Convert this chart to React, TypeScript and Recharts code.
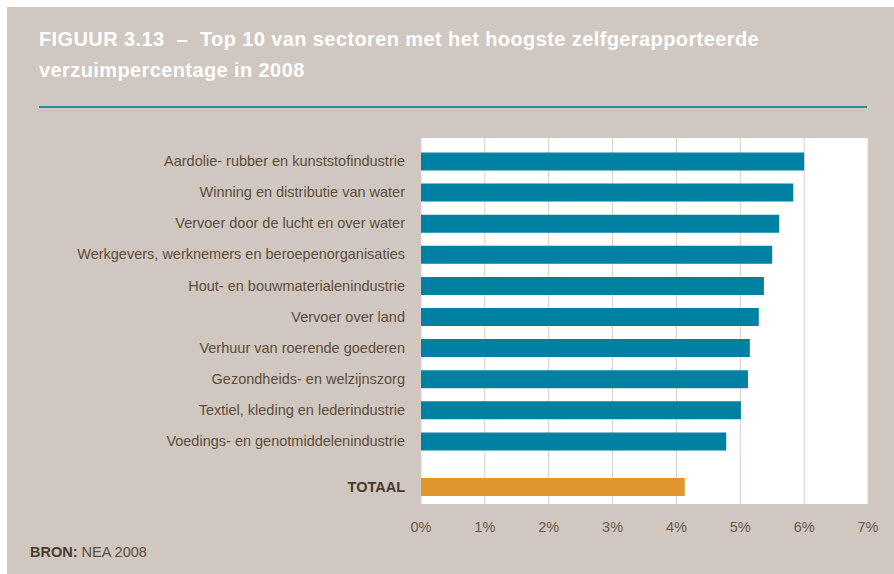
import { Bar, BarChart, CartesianGrid, Cell, XAxis, YAxis } from "recharts";

const sectors = [
  "Aardolie- rubber en kunststofindustrie",
  "Winning en distributie van water",
  "Vervoer door de lucht en over water",
  "Werkgevers, werknemers en beroepenorganisaties",
  "Hout- en bouwmaterialenindustrie",
  "Vervoer over land",
  "Verhuur van roerende goederen",
  "Gezondheids- en welzijnszorg",
  "Textiel, kleding en lederindustrie",
  "Voedings- en genotmiddelenindustrie",
];
const sectorValues = [6.0, 5.83, 5.61, 5.5, 5.37, 5.29, 5.15, 5.12, 5.01, 4.78];
const totalLabel = "TOTAAL";
const totalValue = 4.13;
const xTicks = [0, 1, 2, 3, 4, 5, 6, 7];

const BG = "#d0c7c0";
const TEAL = "#0081a1";
const ORANGE = "#e0962f";
const GRID = "#d9d1ca";
const TEXT = "#5e4d3b";
const FONT = "'Liberation Sans', Arial, sans-serif";

const sectorData = sectors.map((name, i) => ({ name, value: sectorValues[i] }));
const totalData = [{ name: totalLabel, value: totalValue }];

const CHART_W = 894;
const PLOT_RIGHT = 26;
const AXIS_W = 421;

export default function App() {
  return (
    <div
      style={{
        position: "absolute",
        left: 0,
        top: 0,
        width: 894,
        height: 574,
        background: "#fff",
        fontFamily: FONT,
        overflow: "hidden",
      }}
    >
      <div style={{ position: "absolute", left: 7, top: 7, right: 0, bottom: 0, background: BG }} />
      <div
        style={{
          position: "absolute",
          left: 39,
          top: 24,
          color: "#fff",
          fontWeight: 700,
          fontSize: 20,
          letterSpacing: 0.4,
          lineHeight: "31px",
          whiteSpace: "pre",
        }}
      >
        {"FIGUUR 3.13  \u2013  Top 10 van sectoren met het hoogste zelfgerapporteerde\nverzuimpercentage in 2008"}
      </div>
      <div style={{ position: "absolute", left: 39, top: 106, width: 828, height: 2, background: "#3a8799" }} />

      {/* sectors */}
      <div style={{ position: "absolute", left: 0, top: 138 }}>
        <BarChart
          width={CHART_W}
          height={326}
          data={sectorData}
          layout="vertical"
          margin={{ top: 0, right: PLOT_RIGHT, bottom: 0, left: 0 }}
        >
          <CartesianGrid horizontal={false} stroke={GRID} fill="#fff" />
          <XAxis type="number" domain={[0, 7]} ticks={xTicks} hide />
          <YAxis
            type="category"
            dataKey="name"
            width={AXIS_W}
            axisLine={false}
            tickLine={false}
            tickSize={0}
            tickMargin={16}
            padding={{ top: 7.5, bottom: 7.5 }}
            interval={0}
            tick={{ fontSize: 14.5, fill: TEXT, fontFamily: FONT }}
          />
          <Bar dataKey="value" barSize={18} fill={TEAL} isAnimationActive={false} />
        </BarChart>
      </div>

      {/* total */}
      <div style={{ position: "absolute", left: 0, top: 464 }}>
        <BarChart
          width={CHART_W}
          height={80}
          data={totalData}
          layout="vertical"
          margin={{ top: 0, right: PLOT_RIGHT, bottom: 0, left: 0 }}
        >
          <CartesianGrid horizontal={false} stroke={GRID} fill="#fff" />
          <XAxis
            type="number"
            domain={[0, 7]}
            ticks={xTicks}
            height={40}
            axisLine={false}
            tickLine={false}
            tickSize={0}
            tickMargin={18}
            tickFormatter={(v) => `${v}%`}
            tick={{ fontSize: 14.5, fill: "#6b5a48", fontFamily: FONT }}
          />
          <YAxis
            type="category"
            dataKey="name"
            width={AXIS_W}
            axisLine={false}
            tickLine={false}
            tickSize={0}
            tickMargin={16}
            padding={{ top: 6, bottom: 0 }}
            tick={{ fontSize: 14.5, fill: "#4a3a2a", fontWeight: 700, fontFamily: FONT }}
          />
          <Bar dataKey="value" barSize={18} isAnimationActive={false}>
            {totalData.map((d) => (
              <Cell key={d.name} fill={ORANGE} />
            ))}
          </Bar>
        </BarChart>
      </div>

      <div style={{ position: "absolute", left: 30, top: 544, fontSize: 14.5, color: TEXT }}>
        <span style={{ fontWeight: 700, color: "#4a3a2a" }}>BRON:</span> NEA 2008
      </div>
    </div>
  );
}
